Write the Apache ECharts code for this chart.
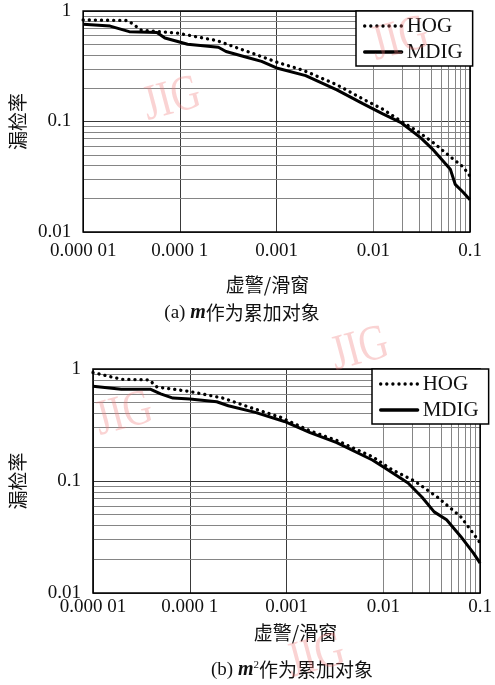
<!DOCTYPE html>
<html>
<head>
<meta charset="utf-8">
<script src="https://cdn.jsdelivr.net/npm/echarts@6/dist/echarts.min.js"></script>
<style>
  html, body { margin: 0; padding: 0; background: #fff; }
  #chart { width: 495px; height: 685px; }
</style>
</head>
<body>
<div id="chart"></div>
<script>
// tick labels
const xTickLabels = ['0.000 01', '0.000 1', '0.001', '0.01', '0.1'];   // 1e-5 .. 1e-1
const yTickLabels = ['0.01', '0.1', '1'];                              // 1e-2 .. 1
const xDecades = [1e-5, 1e-4, 1e-3, 1e-2];
const yDecades = [0.01, 0.1];
const minorSteps = [2, 3, 4, 5, 6, 7, 8, 9];

// (a) m as accumulation object : [false alarm per window, miss rate]
const hogA = [
  [1e-5, 0.83], [2.9e-5, 0.82], [3.5e-5, 0.73], [4.0e-5, 0.67], [6.0e-5, 0.65],
  [9.5e-5, 0.63], [2.4e-4, 0.54], [5.0e-4, 0.43], [1.0e-3, 0.345], [1.9e-3, 0.29],
  [4.2e-3, 0.215], [7.8e-3, 0.16], [0.0124, 0.13], [0.0196, 0.1], [0.029, 0.081],
  [0.042, 0.064], [0.0626, 0.048], [0.0845, 0.039], [0.1, 0.032]
];
const mdigA = [
  [1e-5, 0.76], [1.9e-5, 0.73], [3.0e-5, 0.65], [5.8e-5, 0.64], [7.0e-5, 0.57],
  [9.5e-5, 0.53], [1.2e-4, 0.50], [2.5e-4, 0.47], [3.0e-4, 0.43], [5.0e-4, 0.38],
  [7.0e-4, 0.35], [1.0e-3, 0.305], [2.0e-3, 0.26], [4.2e-3, 0.193], [7.8e-3, 0.145],
  [0.0124, 0.118], [0.0196, 0.097], [0.031, 0.071], [0.042, 0.055], [0.0626, 0.037],
  [0.0703, 0.027], [0.0845, 0.023], [0.1, 0.0196]
];

// (b) m^2 as accumulation object
const hogB = [
  [1e-5, 0.93], [1.96e-5, 0.81], [3.8e-5, 0.80], [4.6e-5, 0.69], [6.7e-5, 0.66],
  [1e-4, 0.63], [2.2e-4, 0.55], [4.0e-4, 0.46], [8.7e-4, 0.37], [1.75e-3, 0.28],
  [3.3e-3, 0.23], [7.7e-3, 0.165], [0.0123, 0.126], [0.021, 0.1], [0.036, 0.072],
  [0.063, 0.048], [0.085, 0.034], [0.1, 0.028]
];
const mdigB = [
  [1e-5, 0.70], [1.96e-5, 0.66], [3.9e-5, 0.66], [5.0e-5, 0.60], [6.7e-5, 0.55],
  [1e-4, 0.54], [1.9e-4, 0.51], [2.5e-4, 0.47], [4.75e-4, 0.41], [9.5e-4, 0.34],
  [1.75e-3, 0.27], [3.3e-3, 0.22], [7.7e-3, 0.154], [0.0105, 0.13], [0.018, 0.096],
  [0.025, 0.072], [0.0335, 0.053], [0.045, 0.045], [0.063, 0.032], [0.085, 0.0228],
  [0.1, 0.0185]
];

const SERIF = "'Liberation Serif', 'Noto Sans CJK SC', serif";
const CJK = "'Noto Sans CJK SC', 'Liberation Serif', serif";

const minorX = [];
xDecades.forEach(d => minorSteps.forEach(m => minorX.push({ xAxis: d * m })));
const minorY = [];
yDecades.forEach(d => minorSteps.forEach(m => minorY.push({ yAxis: d * m })));

function xAxisCfg(gridIndex, labelMargin, nameGap, namePad) {
  return {
    type: 'log', logBase: 10, gridIndex, min: 1e-5, max: 0.1, splitNumber: 4,
    axisLine: { show: false }, axisTick: { show: false },
    splitLine: { show: true, lineStyle: { color: '#3a3a3a', width: 1 } },
    axisLabel: {
      margin: labelMargin, color: '#111', fontFamily: SERIF, fontSize: 19,
      formatter: v => xTickLabels[Math.round(Math.log10(v)) + 5]
    },
    name: '虚警/滑窗', nameLocation: 'middle', nameGap,
    nameTextStyle: { fontFamily: CJK, fontSize: 19, color: '#111', padding: namePad }
  };
}
function yAxisCfg(gridIndex, nameGap) {
  return {
    type: 'log', logBase: 10, gridIndex, min: 0.01, max: 1, splitNumber: 2,
    axisLine: { show: false }, axisTick: { show: false },
    splitLine: { show: true, lineStyle: { color: '#3a3a3a', width: 1 } },
    axisLabel: {
      margin: 12, color: '#111', fontFamily: SERIF, fontSize: 19,
      formatter: v => yTickLabels[Math.round(Math.log10(v)) + 2]
    },
    name: '漏检率', nameLocation: 'middle', nameGap,
    nameTextStyle: { fontFamily: CJK, fontSize: 19, color: '#111' }
  };
}
function gridLines(idx) {
  return {
    type: 'line', xAxisIndex: idx, yAxisIndex: idx, data: [], silent: true, z: 1,
    markLine: {
      silent: true, symbol: 'none', label: { show: false },
      lineStyle: { color: '#858585', width: 1, type: 'solid' },
      animation: false,
      data: minorX.concat(minorY)
    }
  };
}
function hogSeries(idx, data) {
  return {
    name: 'HOG', type: 'line', xAxisIndex: idx, yAxisIndex: idx, data,
    symbol: 'none', showSymbol: false, z: 5,
    itemStyle: { color: '#000' },
    lineStyle: { color: '#000', width: 3.3, type: [0.1, 6], cap: 'round' }
  };
}
function mdigSeries(idx, data) {
  return {
    name: 'MDIG', type: 'line', xAxisIndex: idx, yAxisIndex: idx, data,
    symbol: 'none', showSymbol: false, z: 5,
    itemStyle: { color: '#000' },
    lineStyle: { color: '#000', width: 3, type: 'solid' }
  };
}
function legendCfg(left, top) {
  return {
    left, top, orient: 'vertical', data: ['HOG', 'MDIG'],
    itemWidth: 37, itemHeight: 14, itemGap: 4,
    padding: [4, 10, 3, 7],
    itemStyle: { opacity: 0 },
    lineStyle: { width: 3.3, color: '#000', cap: 'round' },
    backgroundColor: '#fff', borderColor: '#000', borderWidth: 1.5, borderRadius: 0,
    textStyle: { fontFamily: SERIF, fontSize: 21, color: '#111', lineHeight: 22 },
    z: 10
  };
}
function watermark(x, y) {
  return {
    type: 'text', x, y, rotation: 0.26, scaleX: 0.8, z: 100, silent: true,
    style: {
      text: 'JIG', font: "50px 'Liberation Serif'", fill: 'rgba(240,120,120,0.33)',
      align: 'center', verticalAlign: 'middle'
    }
  };
}
function caption(x, y, text) {
  return {
    type: 'text', x, y, z: 50,
    style: {
      text, font: "19px " + CJK, fill: '#111', align: 'center', verticalAlign: 'middle',
      rich: {
        p: { fontFamily: SERIF, fontSize: 19 },
        i: { fontFamily: SERIF, fontSize: 20, fontStyle: 'italic', fontWeight: 'bold' },
        s: { fontFamily: SERIF, fontSize: 11, verticalAlign: 'top', padding: [0, 0, 10, 0] }
      }
    }
  };
}

const chart = echarts.init(document.getElementById('chart'));
chart.setOption({
  animation: false,
  backgroundColor: '#fff',
  grid: [
    { left: 73, top: 11, width: 397, height: 221, show: true, borderColor: '#000', borderWidth: 1.6, backgroundColor: 'transparent', z: 6 },
    { left: 91, top: 369, width: 396, height: 224, show: true, borderColor: '#000', borderWidth: 1.6, backgroundColor: 'transparent', z: 6 }
  ],
  xAxis: [xAxisCfg(0, 10, 43, [0, 18, 0, 0]), xAxisCfg(1, 5, 30, [0, 0, 0, 18])],
  yAxis: [yAxisCfg(0, 48), yAxisCfg(1, 66)],
  legend: [legendCfg(356, 11), legendCfg(372, 369)],
  series: [
    gridLines(0), gridLines(1),
    hogSeries(0, hogA), mdigSeries(0, mdigA),
    hogSeries(1, hogB), mdigSeries(1, mdigB)
  ],
  graphic: [
    caption(242, 313, '{p|(a) }{i|m}作为累加对象'),
    caption(292, 670, '{p|(b) }{i|m}{s|2}作为累加对象'),
    watermark(172, 100),
    watermark(400, 40),
    watermark(360, 350),
    watermark(124, 415),
    watermark(316, 657)
  ]
});
</script>
</body>
</html>
